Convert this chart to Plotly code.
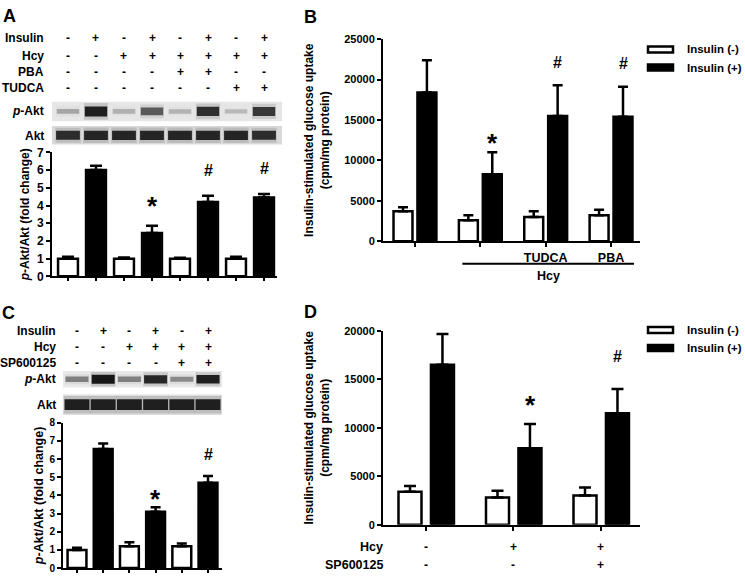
import plotly.graph_objects as go

W, H = 745, 579
FONT = "Liberation Sans, Arial, Helvetica, sans-serif"


def fx(p):
    return p / W


def fy(p):
    return 1 - p / H


# ---------------- DATA ----------------
# Panel A : p-Akt/Akt fold change, 8 lanes
a_row_names = ["Insulin", "Hcy", "PBA", "TUDCA"]
a_insulin = ["-", "+", "-", "+", "-", "+", "-", "+"]
a_hcy = ["-", "-", "+", "+", "+", "+", "+", "+"]
a_pba = ["-", "-", "-", "-", "+", "+", "-", "-"]
a_tudca = ["-", "-", "-", "-", "-", "-", "+", "+"]
a_fold = [1.0, 6.0, 1.0, 2.45, 1.0, 4.2, 1.0, 4.45]
a_fold_err = [0.1, 0.25, 0.06, 0.4, 0.05, 0.35, 0.1, 0.2]
a_sig = ["", "", "", "*", "", "#", "", "#"]
a_pakt_band = [0.15, 0.9, 0.1, 0.55, 0.08, 0.8, 0.06, 0.75]
a_akt_band = [0.8, 0.85, 0.85, 0.85, 0.85, 0.85, 0.85, 0.8]
a_yticks = [0, 1, 2, 3, 4, 5, 6, 7]

# Panel B : insulin-stimulated glucose uptake
b_ticktext = ["", "", "TUDCA", "PBA"]
b_ins_minus = [3700, 2600, 3000, 3200]
b_ins_minus_err = [500, 600, 700, 700]
b_ins_plus = [18400, 8300, 15500, 15400]
b_ins_plus_err = [4000, 2700, 3800, 3700]
b_sig = ["", "*", "#", "#"]
b_yticks = [0, 5000, 10000, 15000, 20000, 25000]

# Panel C : p-Akt/Akt fold change, 6 lanes
c_row_names = ["Insulin", "Hcy", "SP600125"]
c_insulin = ["-", "+", "-", "+", "-", "+"]
c_hcy = ["-", "-", "+", "+", "+", "+"]
c_sp = ["-", "-", "-", "-", "+", "+"]
c_fold = [1.0, 6.55, 1.2, 3.1, 1.2, 4.7]
c_fold_err = [0.12, 0.3, 0.22, 0.25, 0.15, 0.37]
c_sig = ["", "", "", "*", "", "#"]
c_pakt_band = [0.35, 0.95, 0.35, 0.85, 0.3, 0.9]
c_akt_band = [0.9, 0.9, 0.9, 0.9, 0.9, 0.9]
c_yticks = [0, 1, 2, 3, 4, 5, 6, 7, 8]

# Panel D : insulin-stimulated glucose uptake
d_row_names = ["Hcy", "SP600125"]
d_hcy = ["-", "+", "+"]
d_sp = ["-", "-", "+"]
d_ins_minus = [3400, 2800, 3000]
d_ins_minus_err = [600, 700, 850]
d_ins_plus = [16500, 7900, 11500]
d_ins_plus_err = [3200, 2500, 2500]
d_sig = ["", "*", "#"]
d_yticks = [0, 5000, 10000, 15000, 20000]

legend_names = ["Insulin (-)", "Insulin (+)"]
legend_fills = ["white", "black"]

# ---------------- HELPERS ----------------
def errbar(arr, w):
    return dict(type="data", array=arr, arrayminus=[0] * len(arr),
                symmetric=False, color="black", thickness=2.5, width=w)


def fill_for(signs):
    return ["black" if s == "+" else "white" for s in signs]


def band_traces(intens, xa, ya, width):
    lanes = list(range(len(intens)))
    out = []
    halo_h = [0.45 + 0.45 * v for v in intens]
    core_h = [0.2 + 0.35 * v for v in intens]
    out.append(go.Bar(x=lanes, y=halo_h, base=[0.5 - h / 2 for h in halo_h],
                      width=width + 0.06,
                      marker=dict(color=[f"rgba(60,60,60,{0.22 * v:.3f})" for v in intens],
                                  line=dict(width=0)),
                      xaxis=xa, yaxis=ya, showlegend=False, hoverinfo="skip"))
    out.append(go.Bar(x=lanes, y=core_h, base=[0.5 - h / 2 for h in core_h],
                      width=width,
                      marker=dict(color=[f"rgba(15,15,15,{0.15 + 0.85 * v:.3f})" for v in intens],
                                  line=dict(width=0)),
                      xaxis=xa, yaxis=ya, showlegend=False, hoverinfo="skip"))
    return out


def tickfont(s):
    return dict(family=FONT, size=s, color="black", weight="bold")


def lblfont(s):
    return dict(family=FONT, size=s, color="black", weight="bold")


fig = go.Figure()

# ---------------- PANEL A ----------------
a_lanes = list(range(len(a_fold)))
fig.add_trace(go.Bar(x=a_lanes, y=a_fold, width=0.71,
                     marker=dict(color=fill_for(a_insulin), line=dict(color="black", width=2.5)),
                     error_y=errbar(a_fold_err, 6), xaxis="x", yaxis="y",
                     showlegend=False, hoverinfo="skip"))
for t in band_traces(a_pakt_band, "x", "y2", 0.8):
    fig.add_trace(t)
for t in band_traces(a_akt_band, "x", "y3", 0.85):
    fig.add_trace(t)

# ---------------- PANEL B ----------------
b_x = list(range(len(b_ins_minus)))
fig.add_trace(go.Bar(x=b_x, y=b_ins_minus, name=legend_names[0], width=0.29, offset=-0.328,
                     marker=dict(color="white", line=dict(color="black", width=2.5)),
                     error_y=errbar(b_ins_minus_err, 5), xaxis="x2", yaxis="y4",
                     showlegend=False, hoverinfo="skip"))
fig.add_trace(go.Bar(x=b_x, y=b_ins_plus, name=legend_names[1], width=0.29, offset=0.038,
                     marker=dict(color="black", line=dict(color="black", width=2.5)),
                     error_y=errbar(b_ins_plus_err, 5), xaxis="x2", yaxis="y4",
                     showlegend=False, hoverinfo="skip"))

# ---------------- PANEL C ----------------
c_lanes = list(range(len(c_fold)))
fig.add_trace(go.Bar(x=c_lanes, y=c_fold, width=0.72,
                     marker=dict(color=fill_for(c_insulin), line=dict(color="black", width=2.5)),
                     error_y=errbar(c_fold_err, 5), xaxis="x3", yaxis="y5",
                     showlegend=False, hoverinfo="skip"))
for t in band_traces(c_pakt_band, "x3", "y6", 0.88):
    fig.add_trace(t)
for t in band_traces(c_akt_band, "x3", "y7", 0.95):
    fig.add_trace(t)

# ---------------- PANEL D ----------------
d_x = list(range(len(d_ins_minus)))
fig.add_trace(go.Bar(x=d_x, y=d_ins_minus, name=legend_names[0], width=0.263, offset=-0.314,
                     marker=dict(color="white", line=dict(color="black", width=2.5)),
                     error_y=errbar(d_ins_minus_err, 6), xaxis="x4", yaxis="y8",
                     showlegend=False, hoverinfo="skip"))
fig.add_trace(go.Bar(x=d_x, y=d_ins_plus, name=legend_names[1], width=0.263, offset=0.057,
                     marker=dict(color="black", line=dict(color="black", width=2.5)),
                     error_y=errbar(d_ins_plus_err, 6), xaxis="x4", yaxis="y8",
                     showlegend=False, hoverinfo="skip"))

# ---------------- AXES ----------------
common = dict(showline=True, linecolor="black", linewidth=2, showgrid=False,
              zeroline=False, ticks="outside", tickcolor="black", tickwidth=2)
hidden = dict(visible=False, fixedrange=True, range=[0, 1])

title_a = "<i>p</i>-Akt/Akt (fold change)"
title_b = "Insulin-stimulated glucose uptake<br>(cpm/mg protein)"

layout_axes = dict(
    xaxis=dict(common, domain=[fx(52), fx(277)], range=[-0.571, 7.464], anchor="y",
               tickvals=a_lanes, showticklabels=False, ticklen=3, tickwidth=1.5),
    yaxis=dict(common, domain=[fy(276), fy(149)], range=[0, 7], anchor="x",
               tickvals=a_yticks, ticklen=4, tickfont=tickfont(12),
               title=dict(text=title_a, font=lblfont(12), standoff=5)),
    yaxis2=dict(hidden, domain=[fy(117), fy(97)], anchor="x"),
    yaxis3=dict(hidden, domain=[fy(141), fy(122)], anchor="x"),
    xaxis2=dict(common, domain=[fx(383), fx(640)], range=[-0.489, 3.443], anchor="y4",
                tickvals=b_x, ticktext=b_ticktext, ticklen=4, tickfont=lblfont(12.5)),
    yaxis4=dict(common, domain=[fy(240), fy(33)], range=[0, 25000], anchor="x2",
                tickvals=b_yticks, tickformat="d", ticklen=4, tickfont=tickfont(11),
                title=dict(text=title_b, font=lblfont(12), standoff=12)),
    xaxis3=dict(common, domain=[fx(63), fx(222)], range=[-0.534, 5.534], anchor="y5",
                tickvals=c_lanes, showticklabels=False, ticklen=3, tickwidth=1.5),
    yaxis5=dict(common, domain=[fy(575), fy(426)], range=[0, 8], anchor="x3",
                tickvals=c_yticks, ticklen=4, tickfont=tickfont(10),
                title=dict(text=title_a, font=lblfont(12.5), standoff=3)),
    yaxis6=dict(hidden, domain=[fy(390), fy(373)], anchor="x3"),
    yaxis7=dict(hidden, domain=[fy(418), fy(397)], anchor="x3"),
    xaxis4=dict(common, domain=[fx(383), fx(640)], range=[-0.491, 2.446], anchor="y8",
                tickvals=d_x, showticklabels=False, ticklen=4),
    yaxis8=dict(common, domain=[fy(530.5), fy(332)], range=[0, 20000], anchor="x4",
                tickvals=d_yticks, tickformat="d", ticklen=4, tickfont=tickfont(11),
                title=dict(text=title_b, font=lblfont(12), standoff=12)),
)

# ---------------- ANNOTATIONS ----------------
ann = []


def text(x, y, s, size, xref="paper", yref="paper", xanchor="center", yanchor="middle", yshift=0):
    ann.append(dict(x=x, y=y, text=s, xref=xref, yref=yref, showarrow=False,
                    xanchor=xanchor, yanchor=yanchor, yshift=yshift, font=lblfont(size)))


# panel letters
text(fx(1), fy(9), "A", 18, xanchor="left")
text(fx(302), fy(10), "B", 18, xanchor="left")
text(fx(0), fy(314), "C", 18, xanchor="left")
text(fx(302), fy(313), "D", 18, xanchor="left")

# Panel A treatment table
a_rows_y = [32, 50, 67, 83]
for name, signs, yy in zip(a_row_names, [a_insulin, a_hcy, a_pba, a_tudca], a_rows_y):
    text(fx(46), fy(yy), name, 12, xanchor="right")
    for i, s in enumerate(signs):
        text(i, fy(yy), s, 12, xref="x")
text(fx(46), fy(107), "<i>p</i>-Akt", 12, xanchor="right")
text(fx(46), fy(132), "Akt", 12, xanchor="right")

# Panel C treatment table
c_rows_y = [332, 348, 365]
for name, signs, yy in zip(c_row_names, [c_insulin, c_hcy, c_sp], c_rows_y):
    text(fx(58), fy(yy), name, 12, xanchor="right")
    for i, s in enumerate(signs):
        text(i, fy(yy), s, 12, xref="x3")
text(fx(58), fy(381), "<i>p</i>-Akt", 12, xanchor="right")
text(fx(58), fy(408), "Akt", 12, xanchor="right")

# Panel D treatment table
d_rows_y = [553, 572]
for name, signs, yy in zip(d_row_names, [d_hcy, d_sp], d_rows_y):
    text(fx(385), fy(yy), name, 12.5, xanchor="right")
    for i, s in enumerate(signs):
        text(i, fy(yy), s, 12, xref="x4")

# Panel B Hcy bracket label
text(2.04, fy(276), "Hcy", 12.5, xref="x2")

# significance marks
sig_size = {"*": 26, "#": 16}


def sig_marks(xs, tops, errs, sigs, xref, yref, star_shift, hash_shift):
    for x, t, e, s in zip(xs, tops, errs, sigs):
        if not s:
            continue
        shift = star_shift if s == "*" else hash_shift
        text(x, t + e, "<b>" + s + "</b>", sig_size[s], xref=xref, yref=yref, yshift=shift)


sig_marks(a_lanes, a_fold, a_fold_err, a_sig, "x", "y", 20, 25)
sig_marks([x + 0.183 for x in b_x], b_ins_plus, b_ins_plus_err, b_sig, "x2", "y4", 9, 23)
sig_marks(c_lanes, c_fold, c_fold_err, c_sig, "x3", "y5", 8, 21)
sig_marks([x + 0.189 for x in d_x], d_ins_plus, d_ins_plus_err, d_sig, "x4", "y8", 19, 33)

# ---------------- SHAPES ----------------
shapes = []


def blot_bg(x0, x1, y0, y1, color):
    shapes.append(dict(type="rect", xref="paper", yref="paper", x0=fx(x0), x1=fx(x1),
                       y0=fy(y1), y1=fy(y0), fillcolor=color, line=dict(width=0), layer="below"))


blot_bg(52, 282, 97, 117, "#e6e6e6")
blot_bg(52, 282, 122, 141, "#d9d9d9")
blot_bg(63, 222, 373, 390, "#e9e9e9")
blot_bg(63, 222, 397, 418, "#dedede")

# Hcy bracket line in panel B
shapes.append(dict(type="line", xref="x2", yref="paper", x0=0.725, x1=3.351,
                   y0=fy(263), y1=fy(263), line=dict(color="black", width=2)))


# legends (flat swatches + labels) for panels B and D
def legend_block(top):
    for k, (name, fill) in enumerate(zip(legend_names, legend_fills)):
        yc = top + 18.5 * k
        shapes.append(dict(type="rect", xref="paper", yref="paper",
                           x0=fx(648), x1=fx(673), y0=fy(yc + 3), y1=fy(yc - 3),
                           fillcolor=fill, line=dict(color="black", width=2.5)))
        text(fx(685), fy(yc), name, 11.5, xanchor="left")


legend_block(43.5)
legend_block(331)

fig.update_layout(
    width=W, height=H, margin=dict(l=0, r=0, t=0, b=0),
    paper_bgcolor="white", plot_bgcolor="rgba(0,0,0,0)",
    barmode="overlay", font=dict(family=FONT, color="black"),
    annotations=ann, shapes=shapes, showlegend=False,
    **layout_axes,
)

fig.write_html("out.html", config={"displayModeBar": False},
               post_script="document.body.style.margin='0';document.body.style.padding='0';")
